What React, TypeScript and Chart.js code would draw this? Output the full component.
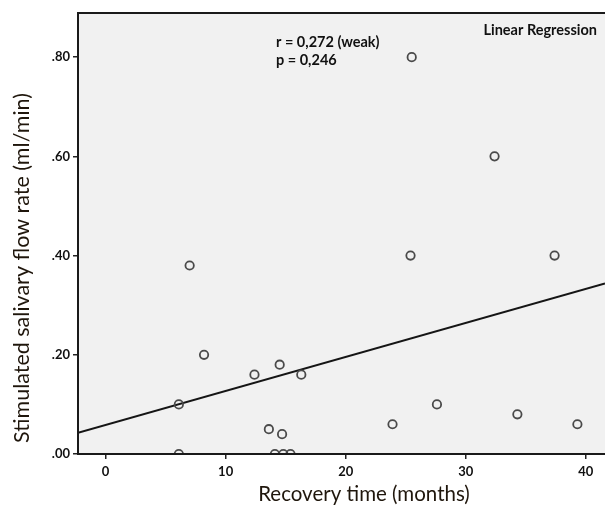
import React, { useEffect, useRef } from "react";
import { Chart, registerables } from "chart.js";

Chart.register(...registerables);

const recoveryMonths = [25.5, 32.4, 7.0, 25.4, 37.4, 8.2, 12.4, 14.5, 16.3, 6.1, 6.1, 13.6, 14.7, 14.1, 14.8, 15.4, 23.9, 27.6, 34.3, 39.3];
const flowRate = [0.80, 0.60, 0.38, 0.40, 0.40, 0.20, 0.16, 0.18, 0.16, 0.10, 0.00, 0.05, 0.04, 0.00, 0.00, 0.00, 0.06, 0.10, 0.08, 0.06];
const fitX = [-2.3, 41.6];
const fitY = [0.043, 0.344];
const xTicks = [0, 10, 20, 30, 40];
const yTicks = [0, 0.2, 0.4, 0.6, 0.8];
const xRange = [-2.3, 41.6];
const yRange = [0, 0.889];
const xTitle = "Recovery time (months)";
const yTitle = "Stimulated salivary flow rate (ml/min)";
const statLines = ["r = 0,272 (weak)", "p = 0,246"];
const methodLabel = "Linear Regression";

const FONT = "Lato, 'Open Sans', sans-serif";

const decorPlugin = {
  id: "decor",
  beforeDraw(chart: any) {
    const { ctx, chartArea: a } = chart;
    ctx.save();
    ctx.fillStyle = "#f1f1f1";
    ctx.fillRect(a.left, a.top, a.right - a.left, a.bottom - a.top);
    ctx.restore();
  },
  afterDraw(chart: any) {
    const { ctx, chartArea: a } = chart;
    ctx.save();
    ctx.strokeStyle = "#1a1a1a";
    ctx.lineWidth = 2;
    ctx.beginPath();
    ctx.moveTo(a.right + 2, a.top);
    ctx.lineTo(a.left, a.top);
    ctx.lineTo(a.left, a.bottom);
    ctx.lineTo(a.right + 2, a.bottom);
    ctx.stroke();

    ctx.fillStyle = "#111";
    ctx.font = `bold 14.5px ${FONT}`;
    ctx.textAlign = "left";
    ctx.textBaseline = "alphabetic";
    ctx.fillText(statLines[0], 276, 47);
    ctx.fillText(statLines[1], 276, 65);
    ctx.font = `bold 14.5px ${FONT}`;
    ctx.textAlign = "right";
    ctx.fillText(methodLabel, 597, 35);

    ctx.fillStyle = "#1f160c";
    ctx.font = `20.5px ${FONT}`;
    ctx.textAlign = "center";
    ctx.textBaseline = "middle";
    ctx.fillText(xTitle, 364, 494);

    ctx.translate(22, 268);
    ctx.rotate(-Math.PI / 2);
    ctx.font = `21.5px ${FONT}`;
    ctx.fillText(yTitle, 0, 0);
    ctx.restore();
  },
};

export default function App() {
  const ref = useRef<HTMLCanvasElement | null>(null);
  useEffect(() => {
    document.body.style.margin = "0";
    if (!ref.current) return;
    const chart = new Chart(ref.current, {
      type: "scatter",
      data: {
        datasets: [
          {
            type: "scatter",
            data: recoveryMonths.map((x, i) => ({ x, y: flowRate[i] })),
            pointRadius: 4.2,
            pointHoverRadius: 4.2,
            pointBorderWidth: 1.8,
            pointBorderColor: "#4a4a4a",
            pointBackgroundColor: "rgba(0,0,0,0)",
            order: 1,
          } as any,
          {
            type: "line",
            data: fitX.map((x, i) => ({ x, y: fitY[i] })),
            borderColor: "#151515",
            borderWidth: 2,
            pointRadius: 0,
            fill: false,
            order: 2,
          } as any,
        ],
      },
      options: {
        animation: false,
        responsive: true,
        maintainAspectRatio: false,
        layout: { padding: { top: 13, right: 0, left: 0, bottom: 0 } },
        plugins: { legend: { display: false }, tooltip: { enabled: false }, title: { display: false } },
        scales: {
          x: {
            type: "linear",
            min: xRange[0],
            max: xRange[1],
            afterBuildTicks: (s: any) => { s.ticks = xTicks.map((v) => ({ value: v })); },
            afterFit: (s: any) => { s.height = 56; s.paddingLeft = 0; s.paddingRight = 0; },
            grid: { drawOnChartArea: false, drawTicks: true, tickLength: 5, color: "#222", lineWidth: 1.5 },
            border: { display: false },
            ticks: {
              color: "#111",
              font: { family: FONT, size: 13, weight: "bold" },
              padding: 5,
              maxRotation: 0,
              callback: (v: any) => String(v),
            },
          },
          y: {
            type: "linear",
            min: yRange[0],
            max: yRange[1],
            afterBuildTicks: (s: any) => { s.ticks = yTicks.map((v) => ({ value: v })); },
            afterFit: (s: any) => { s.width = 78; s.paddingTop = 0; s.paddingBottom = 0; },
            grid: { drawOnChartArea: false, drawTicks: true, tickLength: 5, color: "#222", lineWidth: 1.5 },
            border: { display: false },
            ticks: {
              color: "#111",
              font: { family: FONT, size: 13, weight: "bold" },
              padding: 3,
              callback: (v: any) => Number(v).toFixed(2).replace(/^0/, ""),
            },
          },
        },
      },
      plugins: [decorPlugin],
    } as any);
    return () => chart.destroy();
  }, []);
  return (
    <div style={{ width: 605, height: 510, overflow: "hidden", background: "#fff" }}>
      <div style={{ width: 611, height: 510, position: "relative" }}>
        <canvas ref={ref} />
      </div>
    </div>
  );
}
